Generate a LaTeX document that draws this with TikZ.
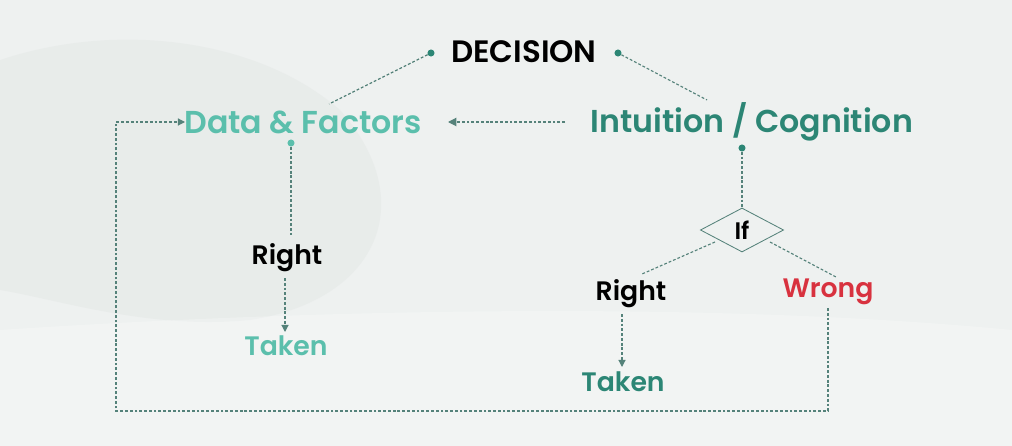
\documentclass[tikz,border=0pt]{standalone}
\usepackage{fontspec}
\setmainfont{Poppins}[BoldFont={Poppins SemiBold}]
\usepackage{xcolor}
\usetikzlibrary{arrows.meta,shapes.geometric}

\definecolor{paper}{HTML}{EEF1F0}
\definecolor{cloud}{HTML}{DCE1DF}
\definecolor{lightteal}{HTML}{5BBFAC}
\definecolor{darkteal}{HTML}{2C8675}
\definecolor{wrongred}{HTML}{D8323F}
\definecolor{dashgray}{HTML}{55827A}

\tikzset{
  lbl/.style={font=\bfseries\fontsize{19}{21}\selectfont,inner sep=2pt},
  big/.style={font=\bfseries\fontsize{22.5}{25}\selectfont,inner sep=2pt},
  tdot/.style={circle,fill=darkteal,inner sep=0pt,minimum size=5pt},
  link/.style={draw=dashgray,line width=0.8pt,dash pattern=on 2pt off 1.4pt},
  flow/.style={link,-{Triangle[length=5pt,width=5pt]}},
}

\begin{document}
\begin{tikzpicture}[x=0.025cm,y=-0.025cm]
% paper
\fill[paper] (0,0) rectangle (1012,446);
\fill[cloud,opacity=0.3] (0,60) .. controls (120,20) and (260,40) .. (340,110)
  .. controls (420,200) and (380,300) .. (250,320)
  .. controls (150,330) and (60,300) .. (0,290) -- cycle;
\fill[white,opacity=0.25] (0,330) .. controls (300,310) and (700,300) .. (1012,330)
  -- (1012,446) -- (0,446) -- cycle;

% Top
\node[font=\bfseries\fontsize{22}{24}\selectfont,inner sep=2pt,text=black] (decision) at (524,52) {DECISION};
\node[tdot] (decL) at (431,53) {};
\node[tdot] (decR) at (618,53) {};

% Two ways
\node[big,text=lightteal] (data) at (303,122) {Data \& Factors};
\node[big,text=darkteal] (intu) at (752,122) {Intuition / Cognition};
\node[tdot,fill=lightteal] (dataD) at (291,143) {};
\node[tdot] (intuD) at (742,148) {};
\coordinate (dataTop) at (329,104);
\coordinate (intuTop) at (707,100);
\coordinate (intuLeft) at (565,122);
\coordinate (dataRight) at (448,122);

% Left branch
\node[lbl,text=black] (rightL) at (287,258) {Right};
\node[lbl,text=lightteal] (takenL) at (286,346) {Taken};
\coordinate (rightLtop) at (291,235);
\coordinate (rightLbot) at (285,278);
\coordinate (takenLtop) at (285,332);

% Right branch
\node[draw=dashgray,line width=0.6pt,diamond,aspect=1.9,inner sep=0pt,
  minimum width=2.08cm,minimum height=1.1cm,
  font=\bfseries\fontsize{17}{19}\selectfont,text=black] (ifnode) at (742,230) {If};
\node[lbl,text=black] (rightR) at (631,294) {Right};
\node[lbl,text=wrongred] (wrong) at (828,292) {Wrong};
\node[lbl,text=darkteal] (takenR) at (623,382) {Taken};
\coordinate (ifL) at (715,242);
\coordinate (ifR) at (770,242);
\coordinate (rightRtop) at (642,274);
\coordinate (wrongTop) at (836,277);
\coordinate (rightRbot) at (622,314);
\coordinate (takenRtop) at (622,367);
\coordinate (wrongBot) at (828,308);
\coordinate (loopA) at (828,411);
\coordinate (loopB) at (116,411);
\coordinate (loopC) at (116,122);
\coordinate (loopD) at (185,122);

% Connectors
\draw[link] (decL) -- (dataTop);
\draw[link] (decR) -- (intuTop);
\draw[flow,-{Triangle[length=6pt,width=6pt]}] (intuLeft) -- (dataRight);
\draw[link] (dataD) -- (rightLtop);
\draw[flow] (rightLbot) -- (takenLtop);
\draw[link] (intuD) -- (ifnode.north);
\draw[link] (ifL) -- (rightRtop);
\draw[link] (ifR) -- (wrongTop);
\draw[flow] (rightRbot) -- (takenRtop);
\draw[flow] (wrongBot) -- (loopA) -- (loopB) -- (loopC) -- (loopD);
\end{tikzpicture}
\end{document}
